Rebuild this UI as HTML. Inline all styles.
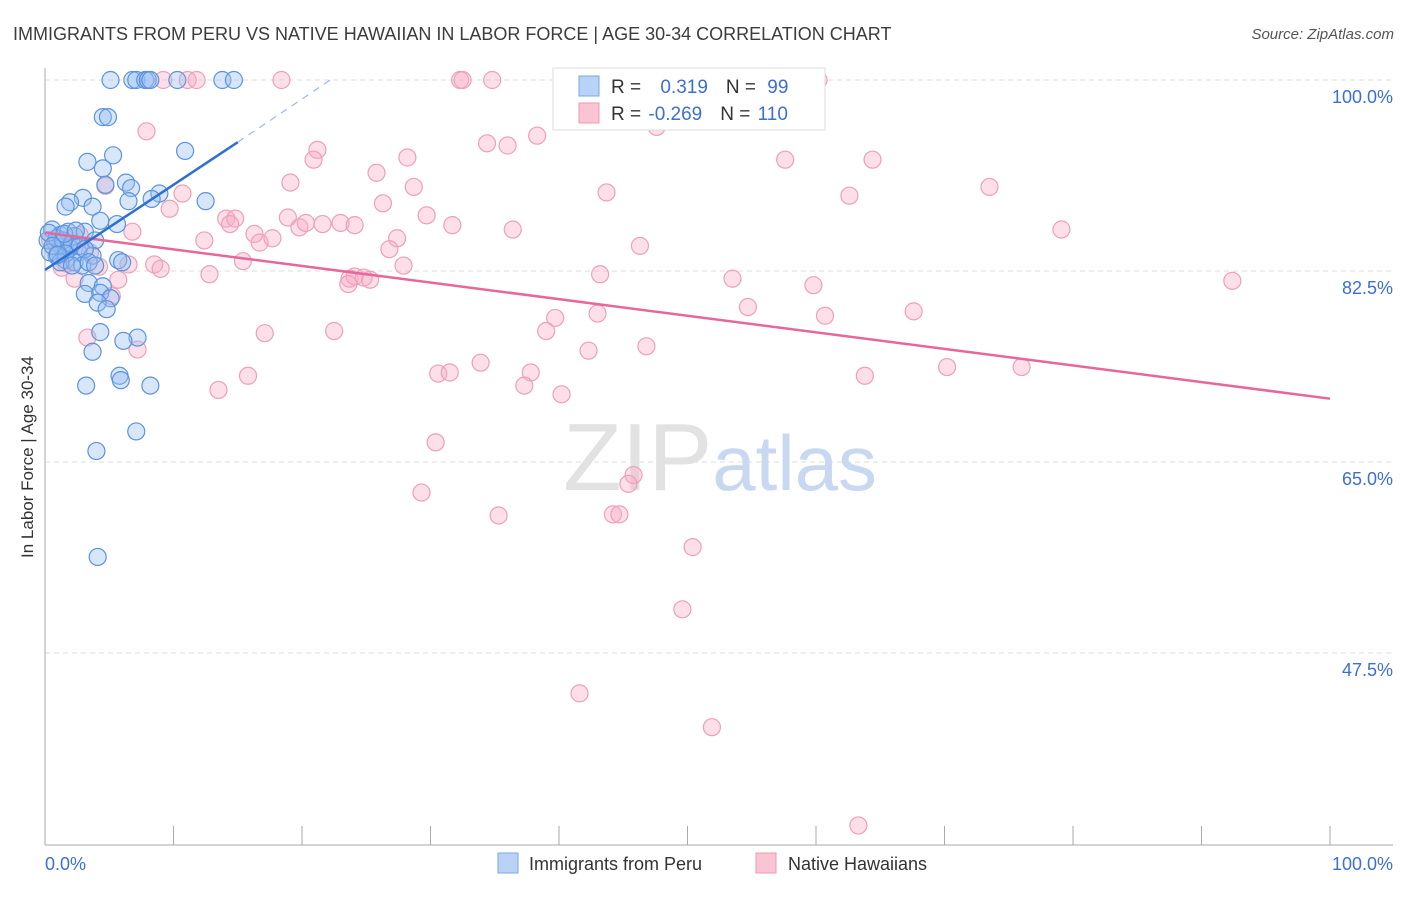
<!DOCTYPE html>
<html><head><meta charset="utf-8"><style>
body{margin:0;background:#fff;font-family:"Liberation Sans",sans-serif;}
svg text{font-family:"Liberation Sans",sans-serif;}
</style></head><body>
<svg id="chart" width="1406" height="892" xmlns="http://www.w3.org/2000/svg">
<text x="13" y="40" font-size="18" fill="#3c3c3c">IMMIGRANTS FROM PERU VS NATIVE HAWAIIAN IN LABOR FORCE | AGE 30-34 CORRELATION CHART</text>
<text x="1394" y="39" font-size="15" fill="#555" text-anchor="end" font-style="italic">Source: ZipAtlas.com</text>
<text transform="translate(33,457) rotate(-90)" font-size="17" fill="#333" text-anchor="middle">In Labor Force | Age 30-34</text>
<g id="grid"></g>
<text x="720" y="490" font-size="96" text-anchor="middle" fill="#e2e2e2" font-family="Liberation Serif">ZIP<tspan fill="#c8d8f0" font-family="Liberation Sans" font-size="78">atlas</tspan></text>
<g id="pts"></g>
<g id="lines"></g>
<g>
<rect x="553" y="68" width="272" height="62" fill="#fff" stroke="#ddd"/>
<rect x="579" y="76" width="20" height="20" fill="#b8d3f5" stroke="#7aa9e6"/>
<rect x="579" y="103" width="20" height="20" fill="#f9c4d4" stroke="#ee9ab3"/>
<text x="611" y="93" font-size="19" fill="#333">R = <tspan fill="#3b6fd6" dx="14">0.319</tspan><tspan dx="18" fill="#333">N = </tspan><tspan fill="#3b6fd6" dx="6">99</tspan></text>
<text x="611" y="120" font-size="19" fill="#333">R = <tspan fill="#3b6fd6" dx="2">-0.269</tspan><tspan dx="18" fill="#333">N = </tspan><tspan fill="#3b6fd6" dx="2">110</tspan></text>
</g>
<g>
<rect x="498" y="853" width="20" height="20" fill="#b8d3f5" stroke="#7aa9e6"/>
<text x="529" y="870" font-size="18" fill="#333">Immigrants from Peru</text>
<rect x="756" y="853" width="20" height="20" fill="#f9c4d4" stroke="#ee9ab3"/>
<text x="788" y="870" font-size="18" fill="#333">Native Hawaiians</text>
</g>
</svg>
<script>
const yTicks=[100,82.5,65,47.5];
const yTickLabels=["100.0%","82.5%","65.0%","47.5%"];
const xTickLabels=["0.0%","100.0%"];
const blueX=[5.1,6.8,7.1,7.8,8.0,8.2,10.3,13.8,14.7,4.5,4.9,5.3,10.9,3.3,4.5,6.3,4.7,6.7,8.9,8.3,6.5,12.5,2.95,1.95,1.6,3.7,4.3,5.6,0.55,1.2,1.8,2.3,3.1,3.9,0.8,1.3,0.2,1.95,2.6,3.7,0.9,1.6,0.4,2.3,2.9,5.7,6.0,3.4,3.1,4.5,4.3,5.1,4.1,4.8,4.3,7.2,6.1,3.7,3.2,5.8,5.9,8.2,7.1,4.0,4.1,0.9,1.4,2.1,2.7,3.1,1.6,1.2,2.1,3.4,3.9,0.3,0.6,1.0,1.5,2.4];
const blueY=[100,100,100,100,100,100,100,100,100,96.6,96.6,93.1,93.5,92.5,91.9,90.6,90.4,90.1,89.6,89.1,88.9,88.9,89.2,88.8,88.4,88.4,87.1,86.8,86.3,85.8,86.1,85.7,86.1,85.3,85.1,84.7,85.3,84.6,84.2,83.9,83.9,83.5,84.2,83.3,83.0,83.5,83.3,81.4,80.4,81.1,80.5,80.0,79.6,79.0,76.9,76.4,76.1,75.1,72.0,72.9,72.5,72.0,67.8,66.0,56.3,85.5,85.3,85.0,84.8,84.5,84.1,83.3,83.0,83.3,83.0,86.0,84.8,84.0,85.9,86.2];
const pinkX=[9.2,11.1,11.8,18.4,32.3,32.5,34.8,60.2,7.9,38.3,47.6,21.2,34.4,36.0,20.9,28.2,57.6,64.4,25.8,19.1,28.7,73.5,43.7,62.6,10.7,9.7,4.7,26.3,29.7,18.9,14.1,14.8,14.4,19.8,20.3,21.6,23.0,24.1,31.7,36.4,79.1,6.8,12.4,16.3,16.7,17.7,27.4,46.3,26.8,15.4,8.5,9.0,6.5,27.9,4.2,12.8,43.2,23.7,24.1,24.8,25.3,23.6,53.5,59.8,92.4,2.3,5.7,5.2,54.7,67.6,43.0,39.7,60.7,22.5,17.1,39.0,3.3,46.8,42.3,7.2,33.9,70.2,76.0,30.6,31.5,37.8,15.8,63.8,37.3,13.5,40.2,30.4,45.8,45.4,29.3,35.3,44.2,44.7,50.4,49.6,41.6,51.9,63.3,0.4,1.0,1.6,2.1,2.7,3.5,1.3];
const pinkY=[100,100,100,100,100,100,100,100,95.3,94.9,95.7,93.6,94.2,94.0,92.7,92.9,92.7,92.7,91.5,90.6,90.2,90.2,89.7,89.4,89.6,88.2,90.3,88.7,87.6,87.4,87.3,87.3,86.8,86.5,86.9,86.8,86.9,86.7,86.7,86.3,86.3,86.1,85.3,85.9,85.1,85.5,85.5,84.8,84.5,83.4,83.1,82.7,83.1,83.0,82.9,82.2,82.2,81.8,82.0,81.9,81.7,81.3,81.8,81.2,81.6,81.8,81.7,80.2,79.2,78.8,78.6,78.2,78.4,77.0,76.8,77.0,76.4,75.6,75.2,75.3,74.1,73.7,73.7,73.1,73.2,73.2,72.9,72.9,72.0,71.6,71.2,66.8,63.8,63.0,62.2,60.1,60.2,60.2,57.2,51.5,43.8,40.7,31.7,85.3,84.4,83.2,84.9,85.8,84.2,82.8];
const blueTrend=[[0,82.6],[15.0,94.3]];
const blueDash=[[15.0,94.3],[22.2,100]];
const pinkTrend=[[0,86.0],[100,70.8]];
const X=v=>45+v*12.85, Y=v=>80+(100-v)*10.914;
const NS="http://www.w3.org/2000/svg";
function mk(tag,attrs,parent){const e=document.createElementNS(NS,tag);for(const k in attrs)e.setAttribute(k,attrs[k]);parent.appendChild(e);return e;}
const grid=document.getElementById('grid');
yTicks.forEach((t,i)=>{
 const l=mk('line',{x1:45,x2:1393,y1:Y(t),y2:Y(t),stroke:'#ddd','stroke-dasharray':'5,4'},grid);
 
 
 const tx=mk('text',{x:1393,y:Y(t)+23,'font-size':18,fill:'#3b6fd6','text-anchor':'end'},grid);
 tx.textContent=yTickLabels[i];
 
 
});
const ax=mk('line',{x1:45,x2:45,y1:68,y2:845,stroke:'#aaa'},grid);


const bx=mk('line',{x1:45,x2:1393,y1:845,y2:845,stroke:'#aaa'},grid);


for(let i=0;i<=10;i++){const t=mk('line',{x1:X(i*10),x2:X(i*10),y1:826,y2:845,stroke:'#aaa'},grid);
 
 }
[[0,'start',45],[1,'end',1393]].forEach(([i,a,x])=>{const t=mk('text',{x:x,y:870,'font-size':18,fill:'#3b6fd6','text-anchor':a},grid);t.textContent=xTickLabels[i];
 
 });
const pts=document.getElementById('pts');
pinkX.forEach((v,i)=>{const c=mk('circle',{cx:X(v),cy:Y(pinkY[i]),r:8.5,fill:'rgba(246,170,195,0.38)',stroke:'#eea0b8','stroke-width':1.2},pts);
 
 });
blueX.forEach((v,i)=>{const c=mk('circle',{cx:X(v),cy:Y(blueY[i]),r:8.5,fill:'rgba(150,190,240,0.38)',stroke:'#5b93df','stroke-width':1.2},pts);
 
 });
const lines=document.getElementById('lines');
const p=mk('line',{x1:X(pinkTrend[0][0]),y1:Y(pinkTrend[0][1]),x2:X(pinkTrend[1][0]),y2:Y(pinkTrend[1][1]),stroke:'#e8679a','stroke-width':2.5},lines);


const b=mk('line',{x1:X(blueTrend[0][0]),y1:Y(blueTrend[0][1]),x2:X(blueTrend[1][0]),y2:Y(blueTrend[1][1]),stroke:'#2c6fd6','stroke-width':2.5},lines);


const d=mk('line',{x1:X(blueDash[0][0]),y1:Y(blueDash[0][1]),x2:X(blueDash[1][0]),y2:Y(blueDash[1][1]),stroke:'#9bb8e8','stroke-width':1.2,'stroke-dasharray':'7,6'},lines);


</script>
</body></html>
